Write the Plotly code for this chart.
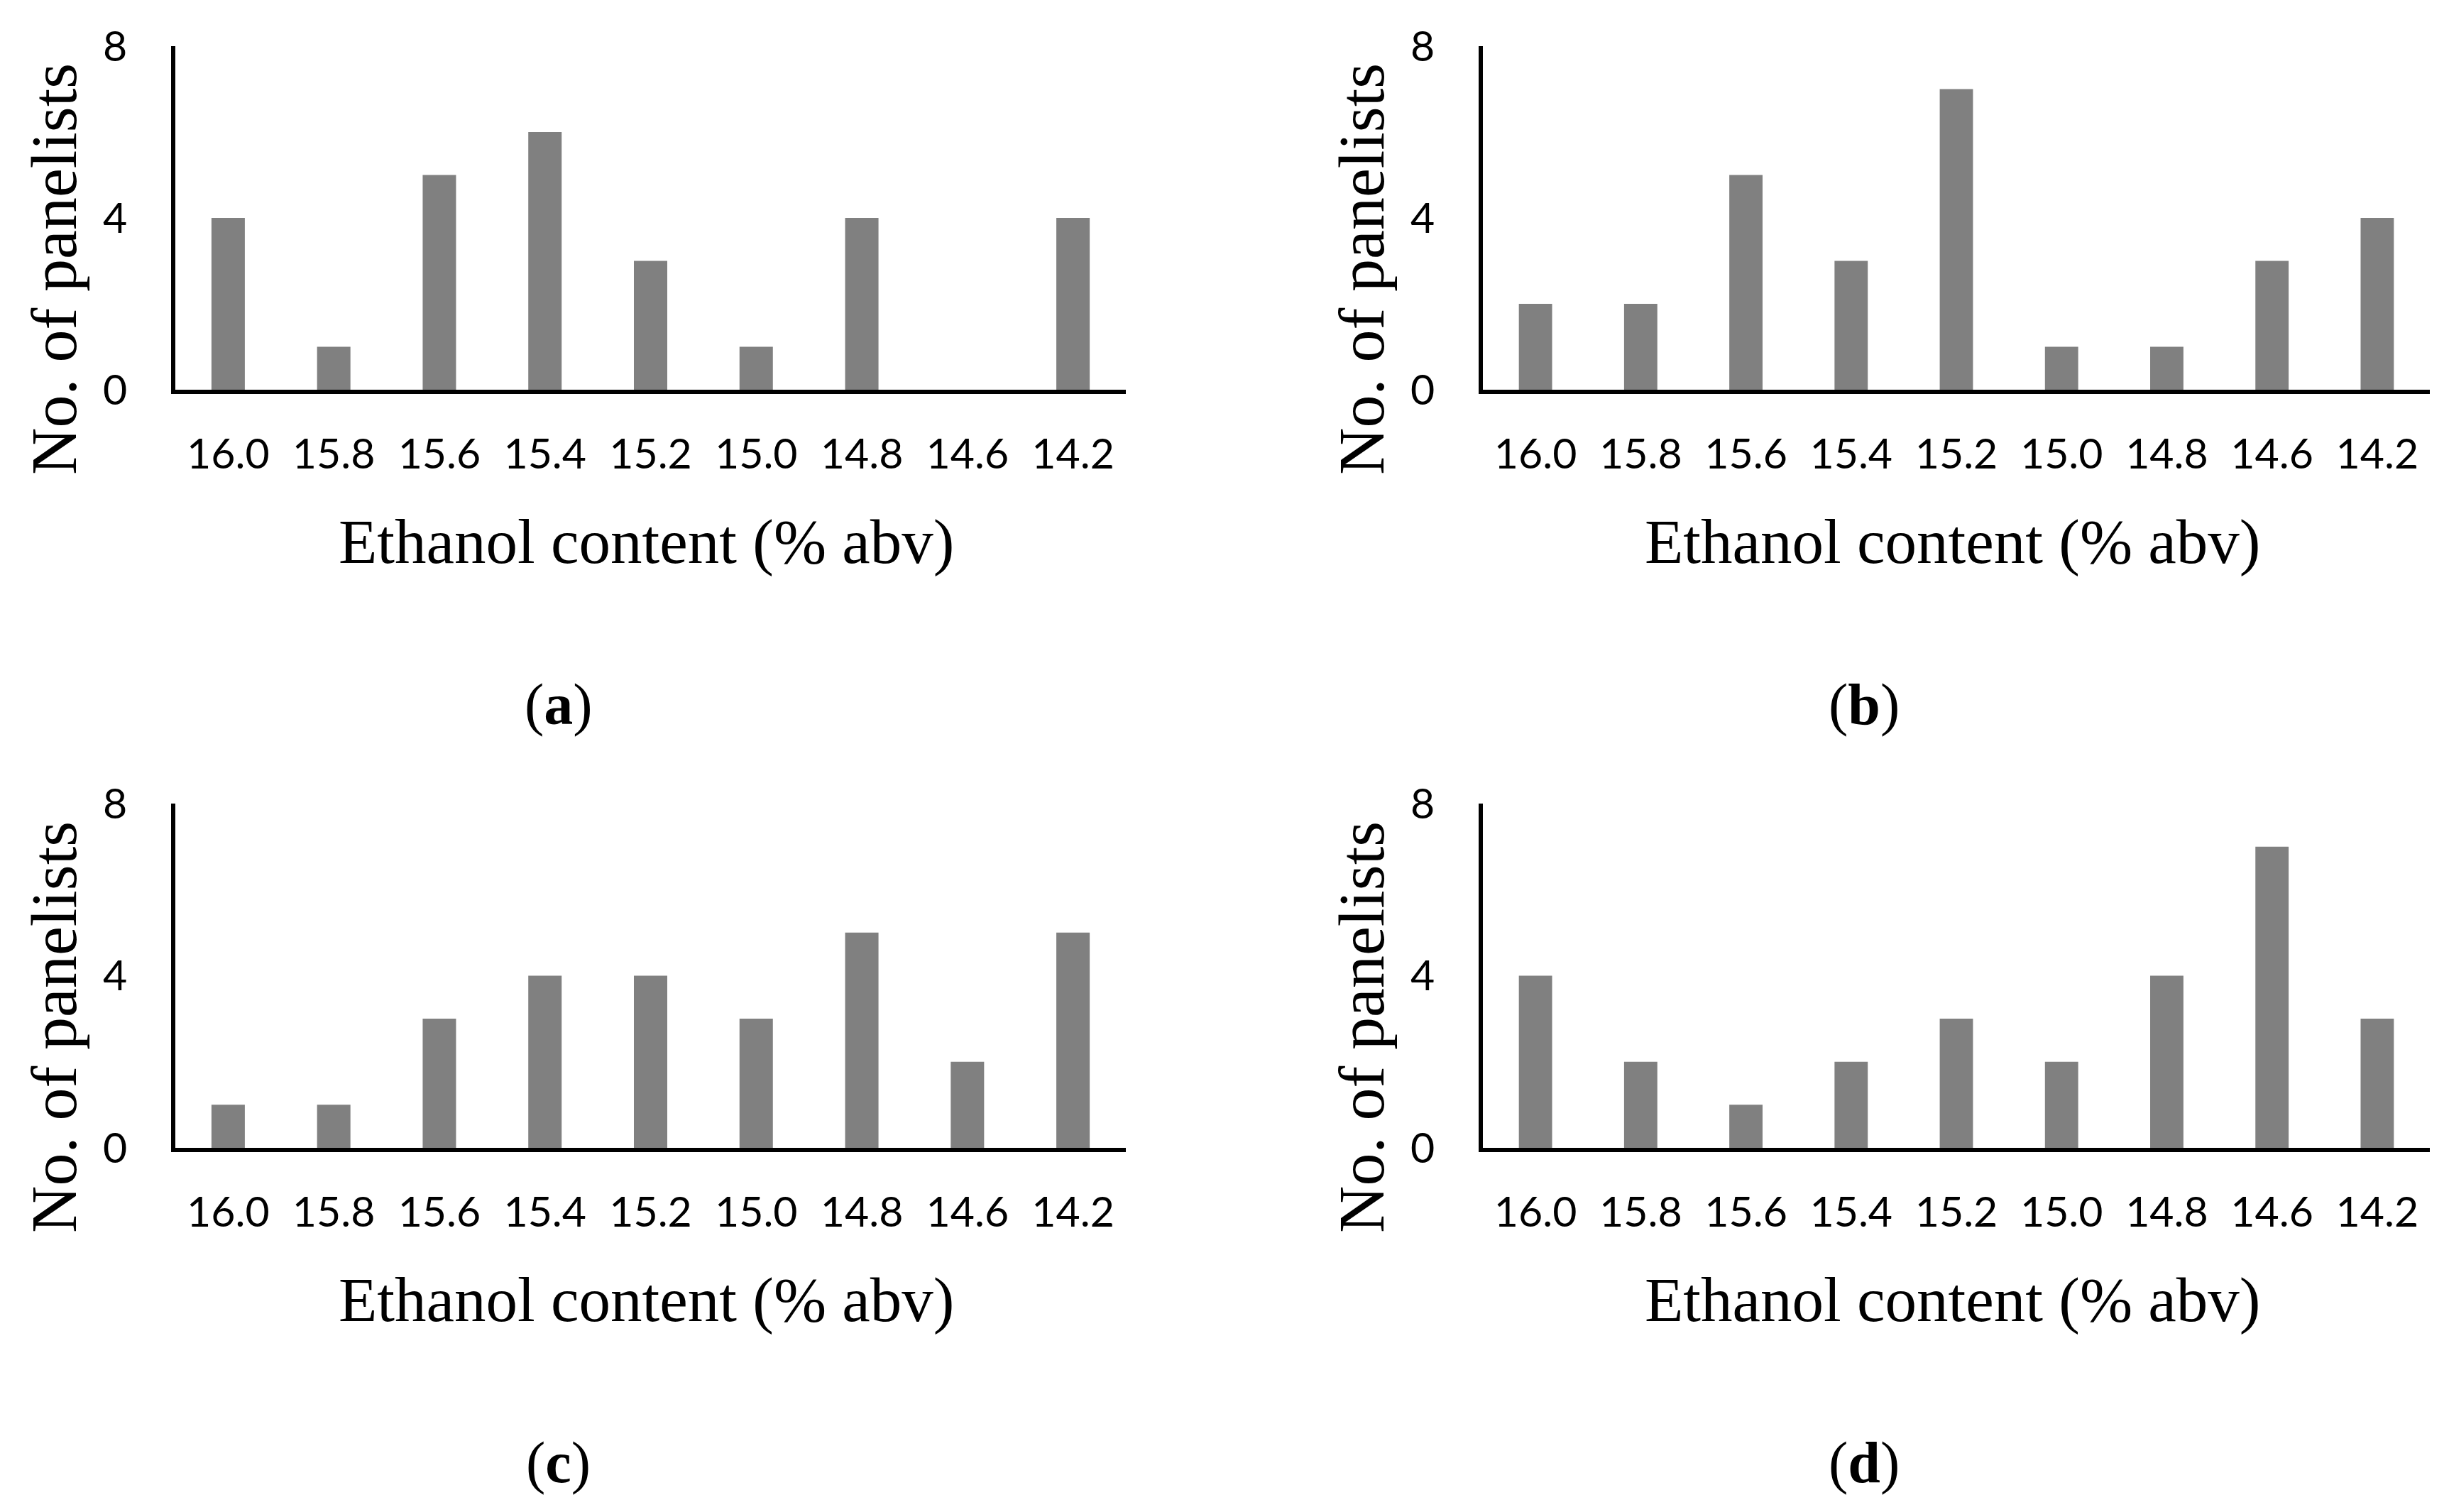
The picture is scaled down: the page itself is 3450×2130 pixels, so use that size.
import plotly.graph_objects as go

categories = ["16.0", "15.8", "15.6", "15.4", "15.2", "15.0", "14.8", "14.6", "14.2"]
panel_a = [4, 1, 5, 6, 3, 1, 4, 0, 4]
panel_b = [2, 2, 5, 3, 7, 1, 1, 3, 4]
panel_c = [1, 1, 3, 4, 4, 3, 5, 2, 5]
panel_d = [4, 2, 1, 2, 3, 2, 4, 7, 3]
panel_labels = ["a", "b", "c", "d"]
y_ticks = [0, 4, 8]
x_title = "Ethanol content (% abv)"
y_title = "No. of panelists"

W, H = 3450, 2130
OFF = 8  # default page body margin of the html page
BAR = "#808080"
TICKFONT = dict(family="Lato", size=59, color="black")
SERIF = "Liberation Serif"


def px(x):
    return (x - OFF) / W


def py(y):
    return 1 - (y - OFF) / H


# panel geometry in page pixels (left, right, top, bottom)
geo = [
    (247, 1586, 65, 549),
    (2089, 3423, 65, 549),
    (247, 1586, 1132, 1617),
    (2089, 3423, 1132, 1617),
]
series = [panel_a, panel_b, panel_c, panel_d]

fig = go.Figure()
annotations = []
for i, (vals, (l, r, t, b)) in enumerate(zip(series, geo)):
    n = "" if i == 0 else str(i + 1)
    fig.add_trace(go.Bar(x=categories, y=vals, marker_color=BAR, marker_line_width=0,
                         xaxis="x" + n, yaxis="y" + n, showlegend=False))
    fig.layout["xaxis" + n] = dict(
        domain=[px(l), px(r)], anchor="y" + n, type="category", automargin=False,
        range=[-0.5, 8.5], showline=True, linecolor="black", linewidth=6,
        showgrid=False, zeroline=False, ticks="", tickfont=TICKFONT,
        ticklabelstandoff=34, fixedrange=True,
    )
    fig.layout["yaxis" + n] = dict(
        domain=[py(b), py(t)], anchor="x" + n, range=[0, 8], automargin=False,
        tickvals=y_ticks, showline=True, linecolor="black", linewidth=6,
        showgrid=False, zeroline=False, ticks="", tickfont=TICKFONT,
        ticklabelstandoff=50, fixedrange=True,
    )
    cx = (l + r) / 2
    # x title
    annotations.append(dict(text=x_title, x=px(cx - 6), y=py(b + 214),
                            xref="paper", yref="paper", showarrow=False,
                            xanchor="center", yanchor="middle",
                            font=dict(family=SERIF, size=89, color="black")))
    # y title
    annotations.append(dict(text=y_title, x=px(l - 171), y=py(b - 170),
                            xref="paper", yref="paper", showarrow=False, textangle=-90,
                            xanchor="center", yanchor="middle",
                            font=dict(family=SERIF, size=92, color="black")))
    # panel label
    annotations.append(dict(text="(<b>" + panel_labels[i] + "</b>)", x=px(cx - 130),
                            y=py(b + 443), xref="paper", yref="paper",
                            showarrow=False, xanchor="center", yanchor="middle",
                            font=dict(family=SERIF, size=82, color="black")))

fig.update_layout(
    template="none",
    width=W, height=H, margin=dict(l=0, r=0, t=0, b=0, autoexpand=False),
    paper_bgcolor="white", plot_bgcolor="white",
    bargap=0.684, annotations=annotations,
)
fig.write_html("out.html")
